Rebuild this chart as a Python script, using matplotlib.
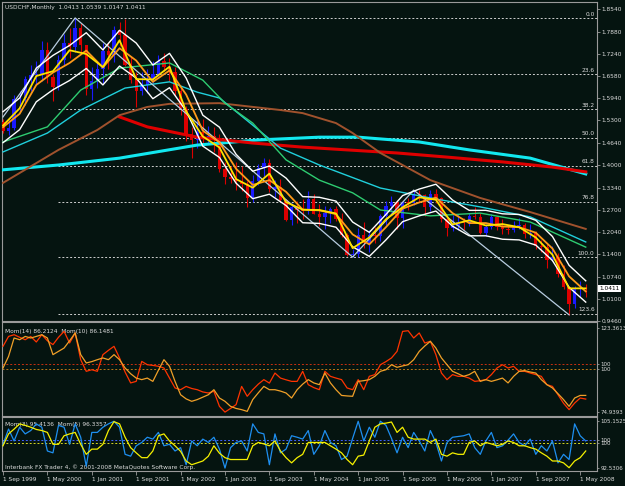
import numpy as np
import matplotlib
matplotlib.use("Agg")
import matplotlib.pyplot as plt

# ---------------------------------------
# USDCHF monthly bars, Sep 1999 .. Jun 2008
# ---------------------------------------

opens = [1.5250, 1.4990, 1.5080, 1.5920, 1.5960, 1.6500, 1.6620, 1.6640, 1.7360, 1.6560,
         1.6260, 1.7050, 1.7540, 1.7420, 1.8000, 1.7480, 1.6200, 1.6440, 1.6780, 1.7320,
         1.7200, 1.7920, 1.7780, 1.6900, 1.6460, 1.6150, 1.6330, 1.6500, 1.6650, 1.7030,
         1.6860, 1.6700, 1.6150, 1.5620, 1.4900, 1.4720, 1.4960, 1.4800, 1.4840, 1.4800,
         1.3880, 1.3650, 1.3580, 1.3530, 1.3450, 1.3040, 1.3520, 1.3900, 1.4060, 1.3300,
         1.3360, 1.2980, 1.2410, 1.2780, 1.2680, 1.2650, 1.3000, 1.2580, 1.2500, 1.2600,
         1.2720, 1.2440, 1.1960, 1.1390, 1.1400, 1.1960, 1.1740, 1.1960, 1.1920, 1.2520,
         1.2820, 1.2930, 1.2460, 1.2910, 1.2890, 1.3150, 1.3140, 1.2770, 1.3150, 1.3050,
         1.2420, 1.2160, 1.2230, 1.2330, 1.2320, 1.2530, 1.2490, 1.2020, 1.2200, 1.2490,
         1.2210, 1.2150, 1.2110, 1.2220, 1.2250, 1.1990, 1.2030, 1.1650, 1.1600, 1.1230,
         1.1330, 1.0840, 1.0440, 0.9950, 1.0390, 1.0413]
highs = [1.5330, 1.5300, 1.6030, 1.6150, 1.6600, 1.6900, 1.7020, 1.7600, 1.7580, 1.6650,
         1.7200, 1.7800, 1.8000, 1.8280, 1.8120, 1.7500, 1.6840, 1.7020, 1.7550, 1.7550,
         1.8050, 1.8150, 1.8250, 1.7180, 1.6720, 1.6720, 1.6800, 1.7020, 1.7200, 1.7270,
         1.7100, 1.6840, 1.6250, 1.5720, 1.5100, 1.5300, 1.5350, 1.5140, 1.5110, 1.4900,
         1.4080, 1.3980, 1.4090, 1.3960, 1.3520, 1.3710, 1.4030, 1.4200, 1.4170, 1.3550,
         1.3580, 1.3000, 1.2880, 1.2940, 1.3000, 1.3230, 1.3160, 1.2870, 1.2820, 1.2780,
         1.2800, 1.2600, 1.2020, 1.1560, 1.2160, 1.2330, 1.2100, 1.2190, 1.2560, 1.2940,
         1.3110, 1.2990, 1.2950, 1.3050, 1.3270, 1.3280, 1.3160, 1.3260, 1.3290, 1.3080,
         1.2500, 1.2540, 1.2580, 1.2450, 1.2610, 1.2770, 1.2600, 1.2290, 1.2580, 1.2530,
         1.2420, 1.2260, 1.2380, 1.2470, 1.2320, 1.2290, 1.2080, 1.1830, 1.1700, 1.1650,
         1.1440, 1.1080, 1.0480, 1.0470, 1.0630, 1.0539]
lows = [1.4940, 1.4870, 1.5030, 1.5550, 1.5750, 1.6150, 1.6350, 1.6450, 1.6400, 1.5860,
        1.6180, 1.6900, 1.7100, 1.7300, 1.7280, 1.6050, 1.5900, 1.6250, 1.6400, 1.6800,
        1.7000, 1.7450, 1.6880, 1.6380, 1.5700, 1.6040, 1.6100, 1.6400, 1.6600, 1.6750,
        1.6450, 1.6020, 1.5450, 1.4700, 1.4200, 1.4500, 1.4600, 1.4620, 1.4370, 1.3800,
        1.3440, 1.3470, 1.3260, 1.3240, 1.2780, 1.2920, 1.3410, 1.3650, 1.3210, 1.3080,
        1.2920, 1.2360, 1.2250, 1.2300, 1.2420, 1.2560, 1.2560, 1.2220, 1.2130, 1.2300,
        1.2370, 1.1900, 1.1350, 1.1320, 1.1330, 1.1580, 1.1460, 1.1720, 1.1800, 1.2260,
        1.2620, 1.2150, 1.2160, 1.2700, 1.2840, 1.2910, 1.2530, 1.2660, 1.2880, 1.2330,
        1.1940, 1.2070, 1.2120, 1.2100, 1.2220, 1.2420, 1.1990, 1.1940, 1.2130, 1.2120,
        1.1980, 1.1980, 1.2050, 1.2140, 1.1880, 1.1880, 1.1570, 1.1480, 1.0990, 1.1200,
        1.0750, 1.0380, 0.9640, 0.9840, 1.0160, 1.0147]
closes = [1.4990, 1.5080, 1.5920, 1.5960, 1.6500, 1.6620, 1.6640, 1.7360, 1.6560, 1.6260,
          1.7050, 1.7540, 1.7420, 1.8000, 1.7480, 1.6200, 1.6440, 1.6780, 1.7320, 1.7200,
          1.7920, 1.7780, 1.6900, 1.6460, 1.6150, 1.6330, 1.6500, 1.6650, 1.7030, 1.6860,
          1.6700, 1.6150, 1.5620, 1.4900, 1.4720, 1.4960, 1.4800, 1.4840, 1.4800, 1.3880,
          1.3650, 1.3580, 1.3530, 1.3450, 1.3040, 1.3520, 1.3900, 1.4060, 1.3300, 1.3360,
          1.2980, 1.2410, 1.2780, 1.2680, 1.2650, 1.3000, 1.2580, 1.2500, 1.2600, 1.2720,
          1.2440, 1.1960, 1.1390, 1.1400, 1.1960, 1.1740, 1.1960, 1.1920, 1.2520, 1.2820,
          1.2930, 1.2460, 1.2910, 1.2890, 1.3150, 1.3140, 1.2770, 1.3150, 1.3050, 1.2420,
          1.2160, 1.2230, 1.2330, 1.2320, 1.2530, 1.2490, 1.2020, 1.2200, 1.2490, 1.2210,
          1.2150, 1.2110, 1.2220, 1.2250, 1.1990, 1.2030, 1.1650, 1.1600, 1.1230, 1.1330,
          1.0840, 1.0440, 0.9950, 1.0390, 1.0420, 1.0411]

# fast averages and envelope, read every third bar
fast_idx = list(range(0, 106, 3))
ma_yellow = [1.515, 1.565, 1.659, 1.673, 1.734, 1.723, 1.685, 1.763, 1.650, 1.649, 1.686, 1.556,
             1.483, 1.451, 1.359, 1.334, 1.375, 1.292, 1.270, 1.269, 1.259, 1.158, 1.189, 1.242,
             1.277, 1.306, 1.299, 1.227, 1.239, 1.224, 1.228, 1.219, 1.189, 1.139, 1.041, 1.041]
ma_orange = [1.510, 1.549, 1.633, 1.669, 1.697, 1.733, 1.684, 1.740, 1.704, 1.642, 1.675, 1.605,
             1.500, 1.466, 1.389, 1.342, 1.356, 1.322, 1.270, 1.268, 1.257, 1.198, 1.169, 1.219,
             1.273, 1.291, 1.305, 1.260, 1.231, 1.231, 1.221, 1.219, 1.203, 1.157, 1.076, 1.032]
env_upper = [1.555, 1.595, 1.682, 1.719, 1.748, 1.785, 1.735, 1.792, 1.755, 1.691, 1.725, 1.653,
             1.545, 1.510, 1.431, 1.382, 1.397, 1.362, 1.308, 1.306, 1.295, 1.234, 1.204, 1.256,
             1.311, 1.330, 1.344, 1.298, 1.268, 1.268, 1.258, 1.256, 1.239, 1.192, 1.108, 1.063]
env_lower = [1.465, 1.503, 1.584, 1.619, 1.646, 1.681, 1.633, 1.688, 1.653, 1.593, 1.625, 1.557,
             1.455, 1.422, 1.347, 1.302, 1.315, 1.282, 1.232, 1.230, 1.219, 1.162, 1.134, 1.182,
             1.235, 1.252, 1.266, 1.222, 1.194, 1.194, 1.184, 1.182, 1.167, 1.122, 1.044, 1.001]

# slow averages, read at key bars
green_idx = [0, 8, 14, 21, 30, 36, 40, 45, 51, 57, 63, 68, 77, 86, 95, 105]
green_ma = [1.467, 1.511, 1.618, 1.682, 1.697, 1.647, 1.580, 1.522, 1.415, 1.356, 1.319, 1.269,
            1.252, 1.260, 1.234, 1.161]
teal_idx = [0, 8, 14, 22, 30, 35, 39, 45, 50, 57, 68, 77, 86, 95, 105]
teal_ma = [1.438, 1.493, 1.560, 1.624, 1.642, 1.612, 1.595, 1.516, 1.449, 1.400, 1.333, 1.304,
           1.278, 1.249, 1.176]
brown_idx = [0, 10, 17, 21, 26, 30, 39, 50, 54, 60, 63, 68, 77, 86, 95, 105]
brown_ma = [1.348, 1.444, 1.502, 1.545, 1.569, 1.578, 1.580, 1.560, 1.551, 1.522, 1.493, 1.435,
            1.356, 1.304, 1.263, 1.214]
red_idx = [21, 26, 35, 45, 54, 62, 71, 80, 90, 99, 105]
red_ma = [1.540, 1.511, 1.481, 1.464, 1.452, 1.444, 1.435, 1.423, 1.409, 1.394, 1.380]
aqua_idx = [0, 10, 21, 35, 46, 57, 64, 75, 84, 95, 105]
aqua_ma = [1.386, 1.400, 1.420, 1.458, 1.473, 1.481, 1.481, 1.467, 1.444, 1.420, 1.374]

# zigzag and fibonacci
zz_idx = [0, 13, 63, 74, 102]
zz_price = [1.540, 1.828, 1.132, 1.327, 0.964]
fib_high, fib_low, fib_start = 1.828, 1.132, 10
fib_levels = [0.0, 23.6, 38.2, 50.0, 61.8, 76.8, 100.0, 123.6]

price_ticks = [1.8540, 1.7880, 1.7240, 1.6580, 1.5940, 1.5300, 1.4640, 1.4000, 1.3340,
               1.2700, 1.2040, 1.1400, 1.0740, 1.0100, 0.9460]
date_ticks = list(range(0, 106, 8))
date_labels = ["1 Sep 1999", "1 May 2000", "1 Jan 2001", "1 Sep 2001", "1 May 2002",
               "1 Jan 2003", "1 Sep 2003", "1 May 2004", "1 Jan 2005", "1 Sep 2005",
               "1 May 2006", "1 Jan 2007", "1 Sep 2007", "1 May 2008"]

# momentum windows
mom14 = [112.8, 118.5, 119.5, 118.0, 116.6, 118.5, 115.3, 119.5, 116.0, 113.8,
         118.0, 121.4, 114.7, 120.5, 105.1, 98.4, 99.3, 98.4, 108.0, 110.5,
         112.8, 106.1, 98.0, 91.7, 92.6, 104.1, 102.2, 101.8, 101.3, 100.3,
         94.5, 88.8, 87.8, 89.7, 88.5, 87.8, 86.5, 85.9, 86.9, 78.2,
         74.9, 77.0, 79.2, 89.7, 84.0, 87.8, 91.0, 93.6, 91.6, 97.4,
         94.5, 93.5, 92.6, 92.6, 98.4, 90.7, 89.0, 87.8, 98.4, 95.5,
         94.5, 93.6, 88.8, 87.8, 93.6, 87.8, 95.5, 96.5, 102.2, 104.0,
         106.1, 109.9, 121.4, 121.8, 117.6, 120.5, 114.7, 115.7, 108.0, 97.4,
         93.6, 96.5, 95.5, 95.5, 94.5, 92.6, 93.0, 93.6, 96.5, 100.3,
         102.2, 100.3, 101.3, 98.4, 98.4, 97.4, 96.5, 95.5, 90.7, 89.7,
         84.9, 80.0, 76.3, 80.1, 83.0, 82.4]
mom10 = [100.3, 107.0, 117.6, 116.6, 118.5, 117.6, 118.5, 119.5, 117.6, 108.0,
         109.9, 111.8, 116.0, 120.5, 108.0, 103.2, 104.0, 105.1, 106.1, 105.1,
         108.0, 105.1, 100.3, 97.0, 94.5, 93.6, 94.5, 92.6, 99.0, 105.1,
         101.3, 92.6, 84.9, 82.5, 81.1, 82.1, 83.5, 84.9, 87.8, 83.0,
         81.1, 78.2, 77.0, 76.3, 75.3, 82.1, 86.0, 89.7, 87.8, 87.8,
         87.0, 85.9, 83.0, 87.8, 91.0, 93.6, 91.7, 90.7, 97.4, 91.7,
         87.8, 84.5, 84.2, 84.0, 92.6, 93.0, 93.6, 95.5, 98.4, 99.3,
         102.2, 100.7, 101.5, 102.2, 105.1, 109.9, 113.0, 115.7, 111.8, 106.1,
         102.2, 98.4, 97.0, 95.5, 96.5, 98.4, 92.6, 93.6, 92.6, 93.5,
         94.5, 91.7, 95.5, 98.4, 98.8, 98.0, 97.4, 93.6, 90.7, 88.8,
         85.5, 82.1, 78.2, 83.0, 84.5, 84.5]
mom3 = [98.9, 103.0, 99.8, 103.5, 101.7, 102.6, 104.4, 103.5, 97.1, 96.6,
        104.0, 103.5, 98.9, 104.4, 100.8, 93.0, 102.1, 102.1, 103.5, 104.4,
        105.1, 103.5, 96.2, 95.7, 98.5, 99.4, 100.8, 100.3, 102.1, 98.5,
        98.9, 97.1, 98.0, 93.4, 99.8, 98.5, 100.3, 99.4, 100.8, 97.6,
        92.5, 98.0, 99.4, 99.8, 97.1, 104.4, 102.1, 101.7, 93.4, 101.7,
        96.6, 97.6, 101.2, 100.8, 100.3, 102.6, 96.2, 98.5, 102.6, 99.4,
        98.5, 94.8, 95.7, 100.5, 105.1, 99.8, 103.5, 100.8, 105.1, 104.0,
        100.5, 96.6, 100.8, 98.0, 102.1, 99.8, 97.1, 102.6, 99.4, 94.4,
        99.4, 100.8, 101.0, 101.2, 101.7, 98.0, 96.2, 99.8, 102.1, 98.0,
        98.5, 100.0, 101.7, 99.4, 98.5, 100.3, 96.2, 98.5, 97.1, 99.8,
        93.9, 96.2, 94.8, 104.4, 101.2, 99.8]
mom5 = [98.5, 101.7, 103.0, 104.4, 104.0, 103.5, 102.9, 102.6, 102.1, 98.9,
        98.9, 101.2, 101.7, 102.1, 98.9, 96.2, 97.6, 97.6, 98.9, 102.6,
        105.0, 104.4, 100.8, 98.0, 96.6, 95.3, 95.3, 97.1, 101.2, 101.7,
        99.8, 98.5, 97.0, 94.4, 93.4, 93.9, 94.4, 95.7, 98.5, 96.5,
        95.3, 94.8, 94.8, 94.8, 94.8, 98.5, 99.4, 99.0, 98.5, 99.8,
        97.1, 95.3, 93.9, 95.3, 96.2, 99.4, 99.4, 99.4, 99.4, 98.5,
        97.6, 96.6, 94.8, 93.4, 95.7, 96.0, 99.8, 103.5, 104.4, 104.6,
        104.9, 102.1, 103.5, 100.8, 100.3, 100.3, 100.3, 99.4, 100.3, 96.2,
        95.7, 96.6, 96.2, 96.2, 99.4, 99.8, 98.5, 99.4, 99.0, 98.5,
        98.9, 99.8, 99.4, 98.5, 98.5, 98.0, 97.6, 96.6, 95.7, 94.4,
        94.4, 93.9, 92.6, 94.4, 95.3, 97.1]

# ---------------------------------------
# Layout: three stacked windows, MT4 look
# ---------------------------------------

BG = "#051410"
FG = "#dcdcdc"
FRAME = "#9a9a9a"
FS = 4.2
W, H = 625, 486

plt.rcParams["font.family"] = ["DejaVu Sans"]

fig = plt.figure(figsize=(W / 100, H / 100), dpi=100, facecolor=BG)


def box(x0, y0, x1, y1):
    return [x0 / W, 1 - y1 / H, (x1 - x0) / W, (y1 - y0) / H]


ax = fig.add_axes(box(2, 2, 597, 321))
ax1 = fig.add_axes(box(2, 322, 597, 416), sharex=ax)
ax2 = fig.add_axes(box(2, 417, 597, 471), sharex=ax)

x_right = 107.03
for a in (ax, ax1, ax2):
    a.set_facecolor(BG)
    for s in a.spines.values():
        s.set_color(FRAME)
        s.set_linewidth(0.8)
    a.yaxis.tick_right()
    a.tick_params(axis="y", colors=FRAME, labelcolor=FG, labelsize=FS,
                  length=2, width=0.6, pad=1.5)
    a.tick_params(axis="x", bottom=False, labelbottom=False)
ax.set_xlim(-0.18, x_right)

# ---------- price window ----------
x = np.arange(len(closes))
o, h, l, c = (np.array(v) for v in (opens, highs, lows, closes))
bar_col = np.where(c >= o, "#1a1aff", "#dd0000")
ax.vlines(x, l, h, colors=bar_col, lw=0.8, zorder=3)
ax.bar(x, np.maximum(np.abs(c - o), 0.002), bottom=np.minimum(o, c), width=0.6,
       color=bar_col, linewidth=0, zorder=3)

fib_range = fib_high - fib_low
for lvl in fib_levels:
    p = fib_high - lvl / 100 * fib_range
    ax.hlines(p, fib_start, x_right, colors="#cfcfcf", linestyles=(0, (2, 2)), lw=0.7, zorder=1)
    ax.text(106.6, p + 0.004, f"{lvl:.1f}", ha="right", va="bottom", fontsize=FS, color=FG, zorder=1)

ax.plot(aqua_idx, aqua_ma, color="#12e8f0", lw=2.2, zorder=4)
ax.plot(red_idx, red_ma, color="#e00000", lw=2.2, zorder=4)
ax.plot(brown_idx, brown_ma, color="#a0522d", lw=1.4, zorder=4)
ax.plot(teal_idx, teal_ma, color="#20d0dc", lw=1.0, zorder=4)
ax.plot(green_idx, green_ma, color="#2ecc71", lw=1.0, zorder=4)
ax.plot(zz_idx, zz_price, color="#b8cde0", lw=0.9, zorder=5)
ax.plot(fast_idx, env_upper, color="white", lw=1.0, zorder=5)
ax.plot(fast_idx, env_lower, color="white", lw=1.0, zorder=5)
ax.plot(fast_idx, ma_orange, color="#ff9a1a", lw=1.3, zorder=6)
ax.plot(fast_idx, ma_yellow, color="#ffe000", lw=1.3, zorder=6)

ax.set_ylim(0.946, 1.8744)
ax.set_yticks(price_ticks)
ax.set_yticklabels([f"{t:.4f}" for t in price_ticks])
ax.text(1.004, closes[-1], f"{closes[-1]:.4f}", transform=ax.get_yaxis_transform(),
        ha="left", va="center", fontsize=FS, color="black",
        bbox=dict(fc="white", ec="none", pad=0.7), zorder=10, clip_on=False)
ax.text(5 / W, 1 - 7 / H, "USDCHF,Monthly  1.0413 1.0539 1.0147 1.0411",
        transform=fig.transFigure, fontsize=FS, color=FG, va="center", ha="left")

# ---------- Mom(14) / Mom(10) ----------
ax1.axhline(102.6, color="#c83010", ls=(0, (2, 2)), lw=0.7, zorder=1)
ax1.axhline(100.0, color="#b87818", ls=(0, (2, 2)), lw=0.7, zorder=1)
ax1.plot(x, mom14, color="#ff3300", lw=0.9, zorder=3)
ax1.plot(x, mom10, color="#f0a028", lw=0.9, zorder=3)
ax1.set_ylim(72.64, 126.82)
ax1.set_yticks([123.3613, 102.6, 100.0, 74.9393])
ax1.set_yticklabels(["123.3613", "100", "100", "74.9393"])
ax1.text(5 / W, 1 - 331 / H, "Mom(14) 86.2124  Mom(10) 86.1481", transform=fig.transFigure,
         fontsize=FS, color=FG, va="center", ha="left", zorder=1)

# ---------- Mom(3) / Mom(5) ----------
ax2.axhline(100.0, color="#4060ff", ls=(0, (2, 2)), lw=0.7, zorder=1)
ax2.axhline(99.3, color="#d8d820", ls=(0, (2, 2)), lw=0.7, zorder=1)
ax2.plot(x, mom3, color="#1e8ff0", lw=0.9, zorder=3)
ax2.plot(x, mom5, color="#f5f000", lw=0.9, zorder=3)
ax2.set_ylim(91.71, 106.25)
ax2.set_yticks([105.1525, 100.0, 99.3, 92.5306])
ax2.set_yticklabels(["105.1525", "100", "100", "92.5306"])
ax2.text(5 / W, 1 - 424 / H, "Mom(3) 95.4136  Mom(5) 96.3357", transform=fig.transFigure,
         fontsize=FS, color=FG, va="center", ha="left", zorder=1)
ax2.text(5 / W, 1 - 467 / H, "Interbank FX Trader 4, \u00a9 2001-2008 MetaQuotes Software Corp.",
         transform=fig.transFigure, fontsize=FS, color=FG, va="center", ha="left", zorder=1)

# the long top labels of the sub-windows sit a little tighter to the frame
for a in (ax1, ax2):
    a.tick_params(axis="y", length=1.5, pad=0.8, labelsize=4.0)

ax2.tick_params(axis="x", bottom=True, labelbottom=True, colors=FRAME, labelcolor=FG,
                labelsize=FS, length=3, width=0.6, pad=1.5)
ax2.set_xticks(date_ticks)
ax2.set_xticklabels(date_labels)
for lbl in ax2.get_xticklabels():
    lbl.set_horizontalalignment("left")

fig.savefig("out.png", dpi=100, facecolor=BG)
plt.close(fig)
